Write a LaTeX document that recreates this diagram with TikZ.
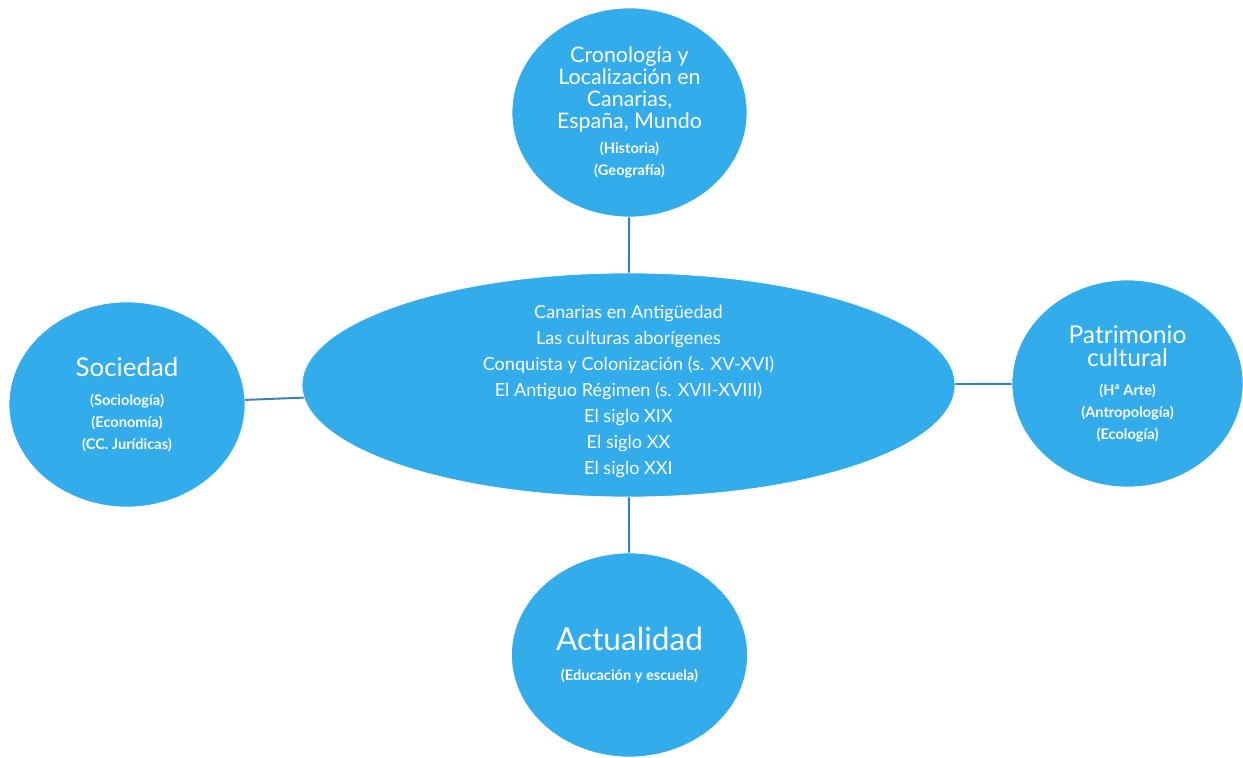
\documentclass[tikz,border=0pt]{standalone}
\usepackage{fontspec}
\setmainfont{Lato}
\usetikzlibrary{shapes.geometric}
\definecolor{azulnodo}{RGB}{50,172,235}
\definecolor{azullinea}{RGB}{52,128,186}
\newcommand{\txtsub}{\fontsize{8.3}{12.5}\selectfont\bfseries}
\newcommand{\txttit}[1]{\fontsize{#1}{12.5}\selectfont\mdseries}
\tikzset{
    burbuja/.style={ellipse, fill=azulnodo, draw=white, line width=0.4pt,
        inner sep=0pt, align=center, text=white, font=\txtsub},
    enlace/.style={draw=azullinea, line width=1.1pt},
}

\begin{document}
\begin{tikzpicture}
        \path[fill=white, use as bounding box] (0,0) rectangle (24.86,-15.16);

        % Nodos
        \node[burbuja, minimum width=13.06cm, minimum height=4.48cm, inner ysep=-8pt,
            font=\fontsize{10.3}{14.8}\selectfont] (centro) at (12.57,-7.7)
            {\rule{0pt}{14.5pt}Canarias en Antigüedad\\Las culturas aborígenes\\
            Conquista y Colonización (s. XV-XVI)\\El Antiguo Régimen (s. XVII-XVIII)\\
            El siglo XIX\\El siglo XX\\El siglo XXI};

        \node[burbuja, minimum width=4.7cm, minimum height=4.18cm] (crono) at (12.59,-2.25)
            {\txttit{12.2}Cronología y\\\txttit{12.2}Localización en\\
            \txttit{12.2}Canarias,\\\txttit{12.2}España, Mundo\\[2pt]
            (Historia)\\(Geografía)};

        \node[burbuja, minimum width=4.72cm, minimum height=4.1cm] (sociedad) at (2.54,-8.09)
            {\txttit{14.7}Sociedad\\[4pt]
            (Sociología)\\(Economía)\\(CC. Jurídicas)};

        \node[burbuja, minimum width=4.62cm, minimum height=4.14cm] (patrimonio) at (22.55,-7.67)
            {\txttit{14}Patrimonio\\[1pt]\txttit{14}cultural\\[3.5pt]
            (Hª Arte)\\(Antropología)\\(Ecología)};

        \node[burbuja, minimum width=4.72cm, minimum height=4.08cm] (actualidad) at (12.59,-13.1)
            {\txttit{18}Actualidad\\[5pt]
            (Educación y escuela)};

        % Conexiones
        \foreach \n in {crono,sociedad,patrimonio,actualidad} {
            \draw[enlace] (\n) -- (centro);
        }
\end{tikzpicture}
\end{document}
